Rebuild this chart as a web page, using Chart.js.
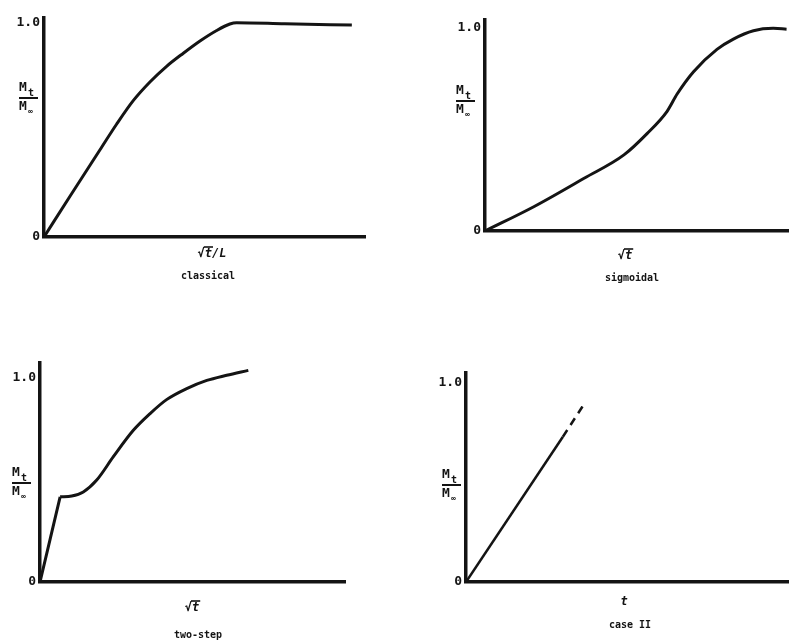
<!DOCTYPE html>
<html>
<head>
<meta charset="utf-8">
<script src="https://cdn.jsdelivr.net/npm/chart.js@4/dist/chart.umd.min.js"></script>
<style>
  html, body { margin: 0; padding: 0; background: #ffffff; }
  #wrap { position: relative; width: 789px; height: 641px; overflow: hidden; }
  #wrap canvas { position: absolute; left: 0; top: 0; }
</style>
</head>
<body>
<div id="wrap">
  <canvas id="c1" width="789" height="641"></canvas>
  <canvas id="c2" width="789" height="641"></canvas>
  <canvas id="c3" width="789" height="641"></canvas>
  <canvas id="c4" width="789" height="641"></canvas>
</div>
<script>
// Fractional uptake Mt/M∞ for the four sorption types (x in % of axis length)
const classicalX = [0, 8.1, 17.4, 22.6, 27.8, 33.0, 38.2, 43.4, 48.6, 53.8, 57.9, 60.0, 75.0, 95.9];
const classicalY = [0, 0.19, 0.405, 0.525, 0.635, 0.722, 0.795, 0.856, 0.913, 0.962, 0.992, 0.998, 0.993, 0.987];

const sigmoidalX = [0, 16.2, 32.6, 45.7, 53.3, 59.9, 63.2, 68.6, 76.3, 81.7, 88.3, 94.8, 99.2];
const sigmoidalY = [0, 0.121, 0.26, 0.375, 0.48, 0.59, 0.675, 0.785, 0.895, 0.946, 0.987, 0.999, 0.995];

// two-step: fast first stage, then a short hold and a second rise
const twoStepFirstX = [0, 6.6];
const twoStepFirstY = [0, 0.416];
const twoStepX = [6.6, 10.4, 14.2, 18.6, 24.0, 30.6, 36.1, 41.5, 48.1, 54.7, 61.2, 68.3];
const twoStepY = [0.416, 0.42, 0.44, 0.498, 0.611, 0.741, 0.823, 0.891, 0.945, 0.985, 1.01, 1.034];

const caseIIX = [0, 30];
const caseIIY = [0, 0.73];
const caseIIDashX = [30, 37];
const caseIIDashY = [0.73, 0.905];

const yTickValues = [0, 1];
const yTickLabels = ['0', '1.0'];

const captions = ['classical', 'sigmoidal', 'two-step', 'case II'];
const xTitles = ['√t/L', '√t', '√t', 't'];

const INK = '#141414';
const W = 789, H = 641;
const Y_AXIS_W = 40;

function pts(xs, ys) {
  return xs.map((x, i) => ({ x: x, y: ys[i] }));
}

// Writes "√t..." with the bar over the argument
function drawRadical(ctx, text, cx, cy) {
  const rad = '√';
  const arg = text.slice(1);
  const underBar = arg.charAt(0);
  const wRad = ctx.measureText(rad).width;
  const wArg = ctx.measureText(arg).width;
  const wBar = ctx.measureText(underBar).width;
  const x0 = cx - (wRad + wArg) / 2;
  ctx.textAlign = 'left';
  ctx.fillText(rad, x0, cy);
  ctx.fillText(arg, x0 + wRad, cy);
  ctx.beginPath();
  ctx.lineWidth = 1.6;
  ctx.moveTo(x0 + wRad - 1, cy - 7);
  ctx.lineTo(x0 + wRad + wBar + 1, cy - 7);
  ctx.stroke();
}

const panelText = {
  id: 'panelText',
  afterDraw(chart, args, opts) {
    const ctx = chart.ctx;
    ctx.save();
    ctx.fillStyle = INK;
    ctx.strokeStyle = INK;
    ctx.textBaseline = 'middle';

    // y-axis quantity written as a fraction Mt / M∞
    const f = opts.frac;
    ctx.font = 'bold 13px "DejaVu Sans Mono"';
    ctx.textAlign = 'left';
    ctx.fillText('M', f.x - 10, f.y - 10);
    ctx.font = 'bold 10px "DejaVu Sans Mono"';
    ctx.fillText('t', f.x - 1, f.y - 5);
    ctx.beginPath();
    ctx.lineWidth = 2;
    ctx.moveTo(f.x - 10, f.y);
    ctx.lineTo(f.x + 9, f.y);
    ctx.stroke();
    ctx.font = 'bold 13px "DejaVu Sans Mono"';
    ctx.fillText('M', f.x - 10, f.y + 9);
    ctx.font = 'bold 8px "DejaVu Sans Mono"';
    ctx.fillText('∞', f.x - 1, f.y + 14);

    // x-axis quantity
    ctx.font = 'bold italic 12px "DejaVu Sans Mono"';
    if (opts.xTitle.charAt(0) === '√') {
      drawRadical(ctx, opts.xTitle, opts.xPos.x, opts.xPos.y);
    } else {
      ctx.textAlign = 'center';
      ctx.fillText(opts.xTitle, opts.xPos.x, opts.xPos.y);
    }

    // panel caption
    ctx.font = 'bold 10px "DejaVu Sans Mono"';
    ctx.textAlign = 'center';
    ctx.fillText(opts.caption, opts.capPos.x, opts.capPos.y);
    ctx.restore();
  }
};

function makePanel(id, p) {
  new Chart(document.getElementById(id), {
    type: 'line',
    data: { datasets: p.datasets },
    options: {
      responsive: false,
      animation: false,
      events: [],
      layout: {
        padding: {
          left: p.axisX - Y_AXIS_W,
          right: W - p.right,
          top: p.top,
          bottom: H - p.bottom
        }
      },
      plugins: {
        legend: { display: false },
        tooltip: { enabled: false },
        panelText: {
          frac: p.frac,
          xTitle: p.xTitle,
          xPos: p.xPos,
          caption: p.caption,
          capPos: p.capPos
        }
      },
      elements: { point: { radius: 0 } },
      scales: {
        x: {
          type: 'linear',
          min: 0,
          max: 100,
          grid: { display: false, drawTicks: false },
          border: { display: true, color: INK, width: 3.5 },
          ticks: { display: false },
          afterFit(scale) { scale.height = 0; }
        },
        y: {
          type: 'linear',
          min: 0,
          max: p.yMax,
          grid: { display: false, drawTicks: false },
          border: { display: true, color: INK, width: 3.5 },
          afterBuildTicks(scale) {
            scale.ticks = yTickValues.map(v => ({ value: v }));
          },
          ticks: {
            padding: 4,
            color: INK,
            font: { family: '"DejaVu Sans Mono"', size: 13, weight: 'bold' },
            callback(v) {
              const i = yTickValues.indexOf(v);
              return i >= 0 ? yTickLabels[i] : '';
            }
          },
          afterFit(scale) { scale.width = Y_AXIS_W; }
        }
      }
    },
    plugins: [panelText]
  });
}

function curve(xs, ys, width, extra) {
  return Object.assign({
    data: pts(xs, ys),
    borderColor: INK,
    borderWidth: width,
    tension: 0.35,
    cubicInterpolationMode: 'monotone',
    fill: false
  }, extra || {});
}

makePanel('c1', {
  axisX: 44, right: 365, top: 18, bottom: 237, yMax: 1.02,
  datasets: [curve(classicalX, classicalY, 3)],
  frac: { x: 29, y: 98 },
  xTitle: xTitles[0], xPos: { x: 212, y: 254 },
  caption: captions[0], capPos: { x: 208, y: 276 }
});

makePanel('c2', {
  axisX: 485, right: 789, top: 20, bottom: 231, yMax: 1.04,
  datasets: [curve(sigmoidalX, sigmoidalY, 3)],
  frac: { x: 466, y: 101 },
  xTitle: xTitles[1], xPos: { x: 625, y: 256 },
  caption: captions[1], capPos: { x: 632, y: 278 }
});

makePanel('c3', {
  axisX: 40, right: 345, top: 363, bottom: 582, yMax: 1.07,
  datasets: [
    curve(twoStepFirstX, twoStepFirstY, 3, { tension: 0 }),
    curve(twoStepX, twoStepY, 3)
  ],
  frac: { x: 22, y: 483 },
  xTitle: xTitles[2], xPos: { x: 192, y: 608 },
  caption: captions[2], capPos: { x: 198, y: 635 }
});

makePanel('c4', {
  axisX: 466, right: 789, top: 373, bottom: 582, yMax: 1.05,
  datasets: [
    curve(caseIIX, caseIIY, 2.5, { tension: 0 }),
    curve(caseIIDashX, caseIIDashY, 2.5, { tension: 0, borderDash: [8, 6] })
  ],
  frac: { x: 452, y: 485 },
  xTitle: xTitles[3], xPos: { x: 624, y: 602 },
  caption: captions[3], capPos: { x: 630, y: 625 }
});
</script>
</body>
</html>
